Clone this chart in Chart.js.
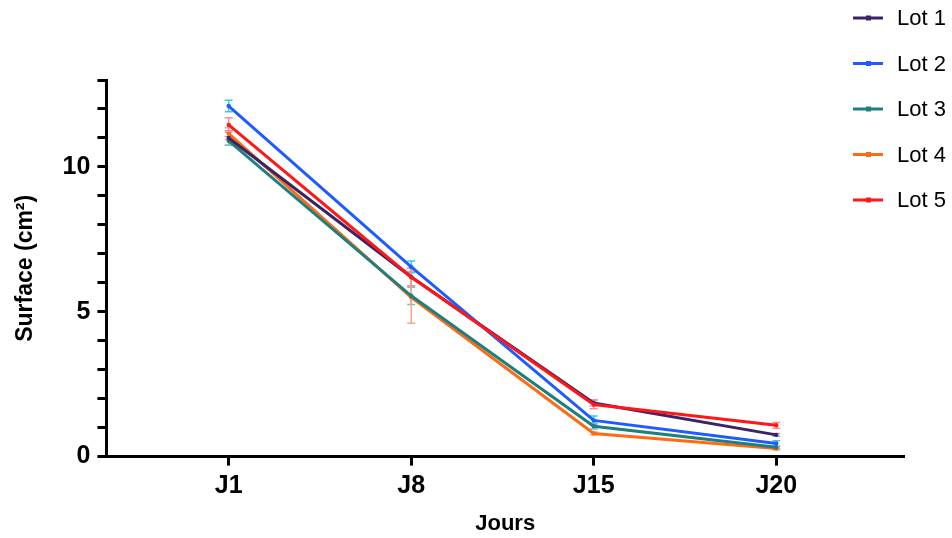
<!DOCTYPE html>
<html>
<head>
<meta charset="utf-8">
<script src="https://cdn.jsdelivr.net/npm/chart.js@4"></script>
<style>
  html, body { margin: 0; padding: 0; background: #fff; }
  #wrap { width: 952px; height: 538px; }
</style>
</head>
<body>
<div id="wrap"><canvas id="myChart" width="952" height="538"></canvas></div>
<script>
// categories (x positions 1..4)
const jours = ['J1', 'J8', 'J15', 'J20'];
const xPos = [1, 2, 3, 4];

const lots = ['Lot 1', 'Lot 2', 'Lot 3', 'Lot 4', 'Lot 5'];
const lot1 = [11.0, 6.2, 1.85, 0.75];
const lot2 = [12.1, 6.55, 1.25, 0.45];
const lot3 = [10.9, 5.55, 1.05, 0.32];
const lot4 = [11.15, 5.5, 0.8, 0.28];
const lot5 = [11.45, 6.2, 1.8, 1.08];

// error (SEM) per point
const err1 = [0.25, 0.3, 0.1, 0.05];
const err2 = [0.2, 0.2, 0.15, 0.1];
const err3 = [0.15, 0.3, 0.1, 0.05];
const err4 = [0.2, 0.9, 0.05, 0.05];
const err5 = [0.25, 0.3, 0.15, 0.1];

const yTicks = [0, 5, 10];

const colors = ['#3a2466', '#1f5cff', '#1f7f80', '#ff6a14', '#ff1616'];
const errColors = ['#b0a4dc', '#35c8ff', '#7cc0b8', '#f4a585', '#f49090'];

const series = [lot1, lot2, lot3, lot4, lot5];
const errs = [err1, err2, err3, err4, err5];

const FONT = "'Liberation Sans', Arial, sans-serif";

const errorBars = {
  id: 'errorBars',
  beforeDatasetsDraw(chart) {
    const ctx = chart.ctx;
    const xs = chart.scales.x, ys = chart.scales.y;
    ctx.save();
    chart.data.datasets.forEach((ds, i) => {
      ctx.strokeStyle = errColors[i];
      ctx.lineWidth = 1.5;
      ds.data.forEach((p, j) => {
        const e = errs[i][j];
        const px = xs.getPixelForValue(p.x);
        const top = ys.getPixelForValue(p.y + e);
        const bot = ys.getPixelForValue(p.y - e);
        ctx.beginPath();
        ctx.moveTo(px, top); ctx.lineTo(px, bot);
        ctx.moveTo(px - 4, top); ctx.lineTo(px + 4, top);
        ctx.moveTo(px - 4, bot); ctx.lineTo(px + 4, bot);
        ctx.stroke();
      });
    });
    ctx.restore();
  }
};

const legendPlugin = {
  id: 'sideLegend',
  afterDraw(chart) {
    const ctx = chart.ctx;
    ctx.save();
    ctx.font = '22px ' + FONT;
    ctx.textBaseline = 'middle';
    chart.data.datasets.forEach((ds, i) => {
      const y = 18 + i * 45.5;
      ctx.strokeStyle = colors[i];
      ctx.lineWidth = 3;
      ctx.beginPath();
      ctx.moveTo(853, y); ctx.lineTo(883, y);
      ctx.stroke();
      ctx.fillStyle = colors[i];
      ctx.fillRect(866, y - 2.5, 5, 5);
      ctx.fillStyle = '#000';
      ctx.fillText(ds.label, 897, y + 1);
    });
    ctx.restore();
  }
};

const ctx = document.getElementById('myChart').getContext('2d');
const myChart = new Chart(ctx, {
  type: 'line',
  data: {
    datasets: lots.map((name, i) => ({
      label: name,
      data: series[i].map((v, j) => ({ x: xPos[j], y: v })),
      borderColor: colors[i],
      backgroundColor: colors[i],
      borderWidth: 3,
      pointRadius: 2.2,
      pointBorderWidth: 0,
      pointHoverRadius: 2.2,
      tension: 0,
      order: [3, 2, 4, 5, 1][i]
    }))
  },
  options: {
    responsive: false,
    animation: false,
    layout: { padding: { top: 80, right: 48, left: 12, bottom: 1 } },
    plugins: {
      legend: { display: false },
      tooltip: { enabled: false }
    },
    scales: {
      x: {
        type: 'linear',
        min: 0.33,
        max: 4.7,
        afterBuildTicks: (scale) => { scale.ticks = xPos.map(v => ({ value: v })); },
        ticks: {
          callback: (v) => jours[xPos.indexOf(v)] || '',
          color: '#000',
          font: { family: FONT, size: 25, weight: 'bold' },
          padding: 6,
          maxRotation: 0,
          autoSkip: false
        },
        grid: { drawOnChartArea: false, tickLength: 9, tickWidth: 3, tickColor: '#000' },
        border: { color: '#000', width: 3 },
        title: {
          display: true, text: 'Jours', color: '#000',
          font: { family: FONT, size: 22, weight: 'bold' },
          padding: { top: 3, bottom: 0 }
        }
      },
      y: {
        min: 0,
        max: 13,
        ticks: {
          stepSize: 1,
          autoSkip: false,
          callback: (v) => yTicks.includes(v) ? v : '',
          color: '#000',
          font: { family: FONT, size: 25, weight: 'bold' },
          padding: 7
        },
        grid: { drawOnChartArea: false, tickLength: 9, tickWidth: 3, tickColor: '#000' },
        border: { color: '#000', width: 3 },
        title: {
          display: true, text: 'Surface (cm²)', color: '#000',
          font: { family: FONT, size: 23, weight: 'bold' },
          padding: { top: 0, bottom: 16 }
        }
      }
    }
  },
  plugins: [errorBars, legendPlugin]
});
</script>
</body>
</html>
